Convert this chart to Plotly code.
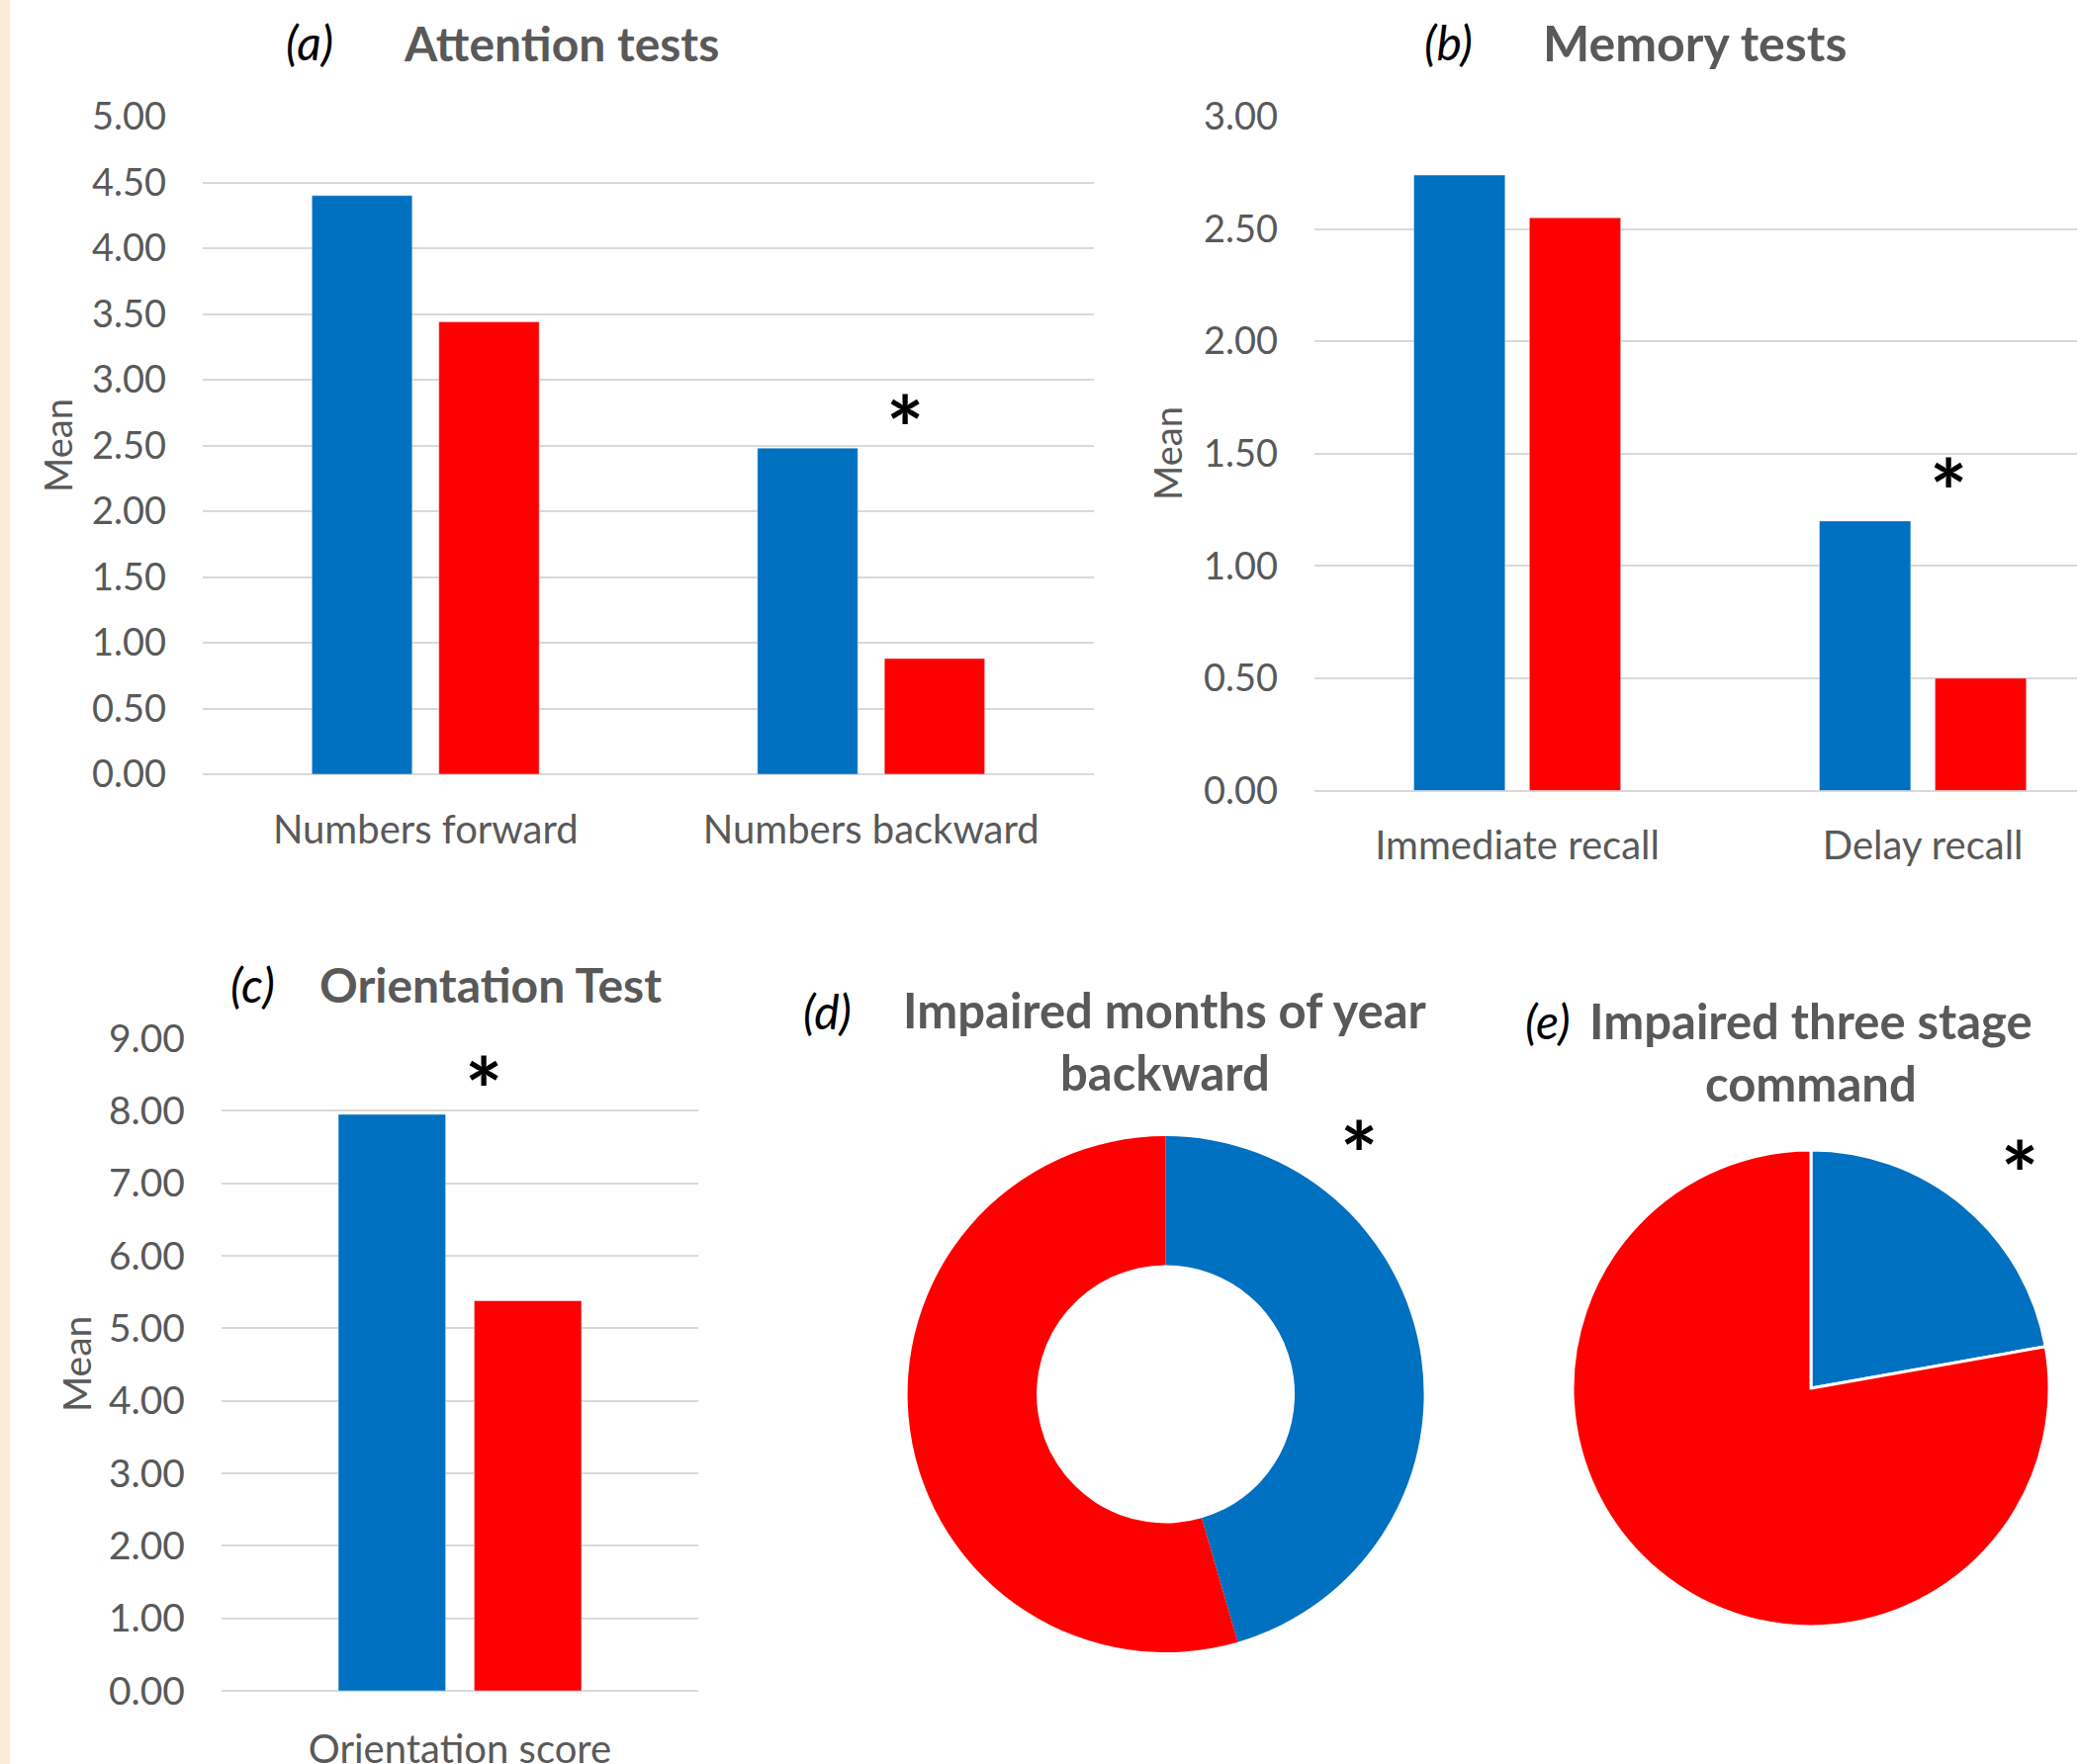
import plotly.graph_objects as go

# ---- data ----
attention_categories = ["Numbers forward", "Numbers backward"]
attention_group1 = [4.40, 2.48]
attention_group2 = [3.44, 0.88]

memory_categories = ["Immediate recall", "Delay recall"]
memory_group1 = [2.74, 1.20]
memory_group2 = [2.55, 0.50]

orientation_categories = ["Orientation score"]
orientation_group1 = [7.95]
orientation_group2 = [5.38]

pie_labels = ["Group 1", "Group 2"]
months_backward_pct = [45.5, 54.5]
three_stage_pct = [22.2, 77.8]

# ---- styling ----
W, H = 2100, 1784
BLUE = "#0070C0"
RED = "#FF0000"
GRID = "#D9D9D9"
TXT = "#595959"
FONT = "Lato, 'Open Sans', sans-serif"


def px(x):
    return x / W


def py(y):
    return 1 - y / H


fig = go.Figure()

# (a) attention
fig.add_trace(go.Bar(x=attention_categories, y=attention_group1, marker_color=BLUE,
                     name="Group 1", xaxis="x", yaxis="y", showlegend=False))
fig.add_trace(go.Bar(x=attention_categories, y=attention_group2, marker_color=RED,
                     name="Group 2", xaxis="x", yaxis="y", showlegend=False))
# (b) memory
fig.add_trace(go.Bar(x=memory_categories, y=memory_group1, marker_color=BLUE,
                     name="Group 1", xaxis="x2", yaxis="y2", showlegend=False))
fig.add_trace(go.Bar(x=memory_categories, y=memory_group2, marker_color=RED,
                     name="Group 2", xaxis="x2", yaxis="y2", showlegend=False))
# (c) orientation
fig.add_trace(go.Bar(x=orientation_categories, y=orientation_group1, marker_color=BLUE,
                     name="Group 1", xaxis="x3", yaxis="y3", showlegend=False))
fig.add_trace(go.Bar(x=orientation_categories, y=orientation_group2, marker_color=RED,
                     name="Group 2", xaxis="x3", yaxis="y3", showlegend=False))

# (d) donut
fig.add_trace(go.Pie(labels=pie_labels, values=months_backward_pct, hole=0.5,
                     sort=False, direction="clockwise", rotation=0,
                     marker=dict(colors=[BLUE, RED], line=dict(width=0)),
                     textinfo="none", showlegend=False,
                     domain=dict(x=[px(1178.6 - 261), px(1178.6 + 261)],
                                 y=[py(1410 + 261), py(1410 - 261)])))
# (e) pie
fig.add_trace(go.Pie(labels=pie_labels, values=three_stage_pct,
                     sort=False, direction="clockwise", rotation=0,
                     marker=dict(colors=[BLUE, RED], line=dict(color="white", width=3)),
                     textinfo="none", showlegend=False,
                     domain=dict(x=[px(1831 - 241), px(1831 + 241)],
                                 y=[py(1404 + 241), py(1404 - 241)])))

tick_font = dict(family=FONT, size=38, color=TXT)


def yaxis_style(domain, rng, dtick):
    return dict(domain=domain, range=rng, dtick=dtick, tickformat=".2f",
                showgrid=True, gridcolor=GRID, gridwidth=2,
                zeroline=True, zerolinecolor=GRID, zerolinewidth=2,
                showline=False, ticks="", tickfont=tick_font,
                ticklabelstandoff=36, automargin=False, fixedrange=True)


def xaxis_style(domain, anchor, standoff, rng=None, size=40):
    d = dict(domain=domain, anchor=anchor, showgrid=False, zeroline=False,
             showline=False, ticks="", type="category",
             tickfont=dict(family=FONT, size=size, color=TXT),
             ticklabelstandoff=standoff, automargin=False, fixedrange=True)
    if rng is not None:
        d["range"] = rng
    return d


fig.update_layout(
    width=W, height=H,
    margin=dict(l=0, r=0, t=0, b=0, autoexpand=False),
    paper_bgcolor="white", plot_bgcolor="white",
    barmode="group", bargap=0.43, bargroupgap=0.21,
    xaxis=xaxis_style([px(205), px(1106)], "y", 29, size=40),
    yaxis=yaxis_style([py(783), py(118)], [0, 5], 0.5) | dict(anchor="x"),
    xaxis2=xaxis_style([px(1329), 1.0], "y2", 28, rng=[-0.5, 1.38], size=40),
    yaxis2=yaxis_style([py(799.5), py(118)], [0, 3], 0.5) | dict(anchor="x2"),
    xaxis3=xaxis_style([px(224), px(706)], "y3", 32, size=40),
    yaxis3=yaxis_style([py(1710), py(1050)], [0, 9], 1) | dict(anchor="x3",
                                                              tickfont=dict(family=FONT, size=39, color=TXT)),
)

# left edge band
fig.add_shape(type="rect", xref="paper", yref="paper",
              x0=0, x1=px(10), y0=0, y1=1,
              fillcolor="#FDEBD9", line=dict(width=0), layer="below")

annotations = []


def text(x, y, s, size, color=TXT, bold=False, italic=False, angle=0, xanchor="center"):
    if bold:
        s = f"<b>{s}</b>"
    if italic:
        s = f"<i>{s}</i>"
    annotations.append(dict(x=px(x), y=py(y), xref="paper", yref="paper", text=s,
                            showarrow=False, xanchor=xanchor, yanchor="middle",
                            textangle=angle,
                            font=dict(family=FONT, size=size, color=color)))


# panel titles
text(313, 42, "(a)", 48, color="black", italic=True)
text(567, 43, "Attention tests", 48, bold=True)
text(1464, 42, "(b)", 48, color="black", italic=True)
text(1713, 43, "Memory tests", 50, bold=True)
text(255, 996, "(c)", 48, color="black", italic=True)
text(496, 996, "Orientation Test", 48, bold=True)
text(836, 1022, "(d)", 48, color="black", italic=True)
text(1178, 1021, "Impaired months of year", 49, bold=True)
text(1178, 1084, "backward", 49, bold=True)
text(1565, 1032, "(e)", 48, color="black", italic=True)
text(1831, 1032, "Impaired three stage", 49, bold=True)
text(1831, 1095, "command", 49, bold=True)

# y-axis titles
text(58, 451, "Mean", 38, angle=-90)
text(1180, 459, "Mean", 38, angle=-90)
text(77, 1380, "Mean", 39, angle=-90)

# significance marks
for x, y in [(915, 432), (1970, 496), (489, 1101), (1374, 1166), (2042, 1186)]:
    text(x, y, "*", 90, color="black", bold=True)

fig.update_layout(annotations=annotations)

fig.write_html("out.html")
